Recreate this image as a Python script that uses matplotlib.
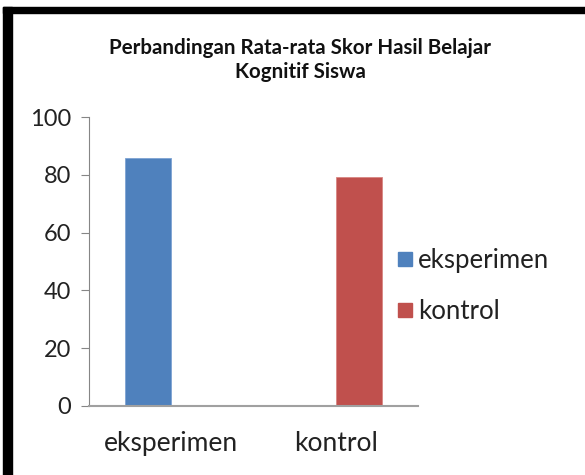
import numpy as np
import matplotlib.pyplot as plt
from matplotlib.patches import Rectangle
from matplotlib.lines import Line2D

categories = ["eksperimen", "kontrol"]
eksperimen = [85.8, np.nan]
kontrol = [np.nan, 79.4]
yticks = [0, 20, 40, 60, 80, 100]
title = "Perbandingan Rata-rata Skor Hasil Belajar\nKognitif Siswa"

plt.rcParams['font.family'] = ['Lato', 'DejaVu Sans']

fig = plt.figure(figsize=(5.85, 4.75), dpi=100)
ax = fig.add_axes([89 / 585, 1 - 405.7 / 475, (418 - 89) / 585, (405.7 - 117.3) / 475])

x = np.arange(len(categories))
bw = 0.283
ax.bar(x - bw / 2, eksperimen, bw, color='#4F81BD', edgecolor='#7EA3D3', linewidth=0.6, label='eksperimen')
ax.bar(x + bw / 2, kontrol, bw, color='#C0504D', edgecolor='#D98683', linewidth=0.6, label='kontrol')

ax.set_xlim(-0.5, 1.5)
ax.set_ylim(0, 100)
ax.set_yticks(yticks)
ax.set_xticks(x)
ax.set_xticklabels(categories)

for s in ['top', 'right']:
    ax.spines[s].set_visible(False)
ax.spines['left'].set_color('#868686')
ax.spines['bottom'].set_color('#A0A0A0')
ax.spines['bottom'].set_linewidth(1.5)
ax.tick_params(axis='y', length=6, width=0.8, color='#868686', pad=7, labelsize=17, labelcolor='#222222')
ax.tick_params(axis='x', length=0, pad=18, labelsize=19, labelcolor='#222222')

fig.text(0.513, 1 - 60 / 475, title, ha='center', va='center', fontsize=14.8,
         fontweight='bold', linespacing=1.3, color='#111111')

handles = [Line2D([], [], marker='s', linestyle='none', markersize=10, color=c)
           for c in ['#4F81BD', '#C0504D']]
fig.legend(handles, categories, loc='center left', bbox_to_anchor=(369 / 585, 1 - 286 / 475),
           frameon=False, fontsize=18.5, handletextpad=0.0, handlelength=1.0,
           labelspacing=1.05, labelcolor='#222222')

# black frame on top and left edge
fig.add_artist(Rectangle((3 / 585, 0), 9 / 585, 1 - 7 / 475, transform=fig.transFigure,
                         color='black', zorder=10))
fig.add_artist(Rectangle((3 / 585, 1 - 13 / 475), 1, 6 / 475, transform=fig.transFigure,
                         color='black', zorder=10))

fig.savefig('out.png', dpi=100)
